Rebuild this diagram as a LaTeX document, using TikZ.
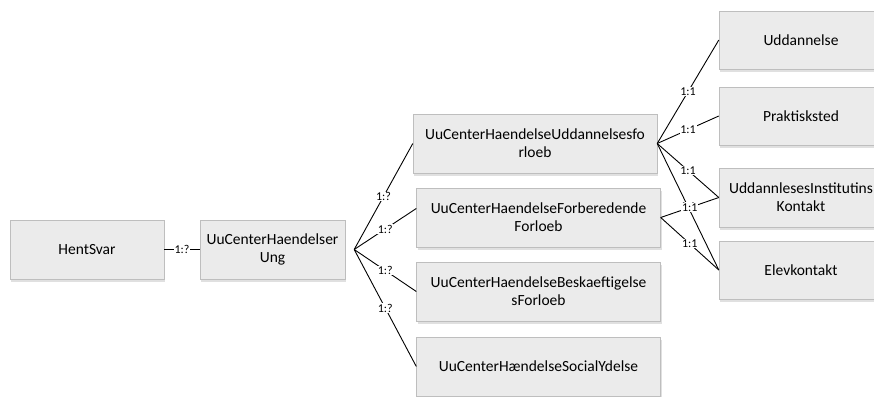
\documentclass[tikz,border=0pt]{standalone}
\usepackage{fontspec}
\setmainfont{Carlito}
\usetikzlibrary{shadows}
\definecolor{boxfill}{RGB}{235,235,235}
\definecolor{boxline}{RGB}{190,190,190}
\tikzset{
    entity/.style = {
        draw=boxline,
        fill=boxfill,
        rectangle,
        align=center,
        inner sep=0pt,
        font=\fontsize{15.5}{18}\selectfont,
        drop shadow={shadow xshift=1pt, shadow yshift=-3pt, opacity=0.12, fill=black}
    },
    link/.style = {
        black,
        line width=0.9pt
    },
    mult/.style = {
        fill=white,
        inner sep=0.8pt,
        font=\fontsize{12}{13}\selectfont
    }
}

\begin{document}
\begin{tikzpicture}[x=1pt, y=-1pt]
    \useasboundingbox (0,0) rectangle (874,396);
    \clip (0,0) rectangle (874,396);

    % Draw all entities
    \node[entity, minimum width=154, minimum height=59] (hent) at (87,249.5) {HentSvar};
    \node[entity, minimum width=145, minimum height=59] (ung)  at (272.5,249.5) {UuCenterHaendelser\\Ung};

    \node[entity, minimum width=244, minimum height=59] (forl) at (535,143.5) {UuCenterHaendelseUddannelsesfo\\rloeb};
    \node[entity, minimum width=244, minimum height=59] (forb) at (538.5,217.5) {UuCenterHaendelseForberedende\\Forloeb};
    \node[entity, minimum width=244, minimum height=59] (besk) at (538.5,291.5) {UuCenterHaendelseBeskaeftigelse\\sForloeb};
    \node[entity, minimum width=244, minimum height=59] (soci) at (538.5,366.5) {UuCenterHændelseSocialYdelse};

    \node[entity, minimum width=164, minimum height=58] (udd)  at (801,40)    {Uddannelse};
    \node[entity, minimum width=164, minimum height=58] (prak) at (801,116)   {Praktisksted};
    \node[entity, minimum width=164, minimum height=59] (inst) at (801,197.5) {UddannlesesInstitutins\\Kontakt};
    \node[entity, minimum width=164, minimum height=58] (elev) at (801,270)   {Elevkontakt};

    % Draw connectors
    \draw[link] (hent.east) -- node[mult] {1:?} (ung.west);

    \coordinate (fan) at ([xshift=9pt]ung.east);
    \draw[link] (fan) -- node[mult] {1:?} (forl.west);
    \draw[link] (fan) -- node[mult] {1:?} ([yshift=9pt]forb.west);
    \draw[link] (fan) -- node[mult] {1:?} (besk.west);
    \draw[link] (fan) -- node[mult] {1:?} (soci.west);

    \draw[link] (forl.east) -- node[mult] {1:1} (udd.west);
    \draw[link] (forl.east) -- node[mult] {1:1} (prak.west);
    \draw[link] (forl.east) -- node[mult] {1:1} (inst.west);
    \draw[link] (forl.east) -- node[mult] {1:1} (elev.west);
    \draw[link] (forb.east) -- node[mult] {1:1} (inst.west);
    \draw[link] (forb.east) -- node[mult] {1:1} (elev.west);
\end{tikzpicture}
\end{document}
